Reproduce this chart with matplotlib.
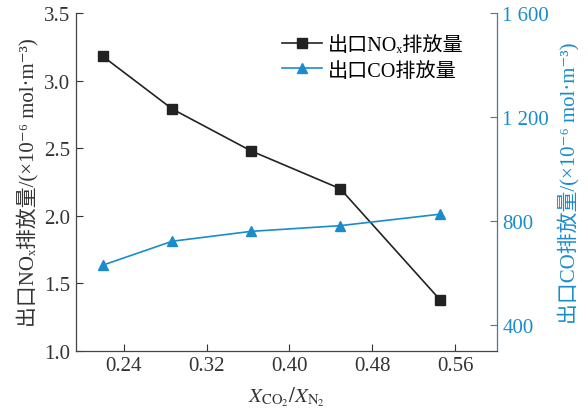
import matplotlib
matplotlib.use("Agg")
import matplotlib.pyplot as plt

plt.rcParams['font.family'] = ['Liberation Serif', 'Noto Sans CJK SC', 'DejaVu Serif']
plt.rcParams['mathtext.fontset'] = 'stix'

# data
ratio = [0.220, 0.287, 0.363, 0.449, 0.545]
nox = [3.18, 2.79, 2.48, 2.20, 1.38]
co = [630, 722, 760, 782, 826]

xticks = [0.24, 0.32, 0.40, 0.48, 0.56]
left_ticks = [1.0, 1.5, 2.0, 2.5, 3.0, 3.5]
right_ticks = [400, 800, 1200, 1600]
right_labels = ['400', '800', '1 200', '1 600']

blue = '#1a8ccc'
dark = '#222222'

fig = plt.figure(figsize=(5.88, 4.14), dpi=100)
ax = fig.add_axes([0.129, 0.150, 0.716, 0.816])
ax2 = ax.twinx()

l1, = ax.plot(ratio, nox, color=dark, lw=1.2, marker='s', ms=6.5,
              label='出口NOₓ排放量')
l2, = ax2.plot(ratio, co, color=blue, lw=1.2, marker='^', ms=7,
               label='出口CO排放量')

ax.set_xlim(0.194, 0.60)
ax.set_ylim(1.0, 3.5)
ax2.set_ylim(300, 1600)

ax.set_xticks(xticks)
ax.set_xticklabels(['%.2f' % v for v in xticks])
ax.set_yticks(left_ticks)
ax.set_yticklabels(['%.1f' % v for v in left_ticks])
ax2.set_yticks(right_ticks)
ax2.set_yticklabels(right_labels)

ax.tick_params(direction='in', labelsize=15, colors='#333333', length=5, pad=4)
ax2.tick_params(direction='in', labelsize=15, colors=blue, length=5, pad=4)

for s in ['top']:
    ax.spines[s].set_visible(False)
    ax2.spines[s].set_visible(False)
ax2.spines['right'].set_color(blue)
ax2.spines['left'].set_color('#444444')
ax2.spines['bottom'].set_color('#444444')

ax.set_xlabel(r'$X_{\mathrm{CO_2}}/X_{\mathrm{N_2}}$', fontsize=15, color='#333333',
              labelpad=6)
ax.set_ylabel('出口NOₓ排放量/(×10⁻⁶ mol·m⁻³)', fontsize=15, color='#333333',
              labelpad=4)
ax2.set_ylabel('出口CO排放量/(×10⁻⁶ mol·m⁻³)', fontsize=15, color=blue,
               labelpad=6)

ax.legend(handles=[l1, l2], loc='upper right', bbox_to_anchor=(0.965, 0.985),
          frameon=False, fontsize=14.5, handlelength=2.0, handletextpad=0.3,
          labelspacing=0.3)

fig.savefig('out.png', dpi=100)
